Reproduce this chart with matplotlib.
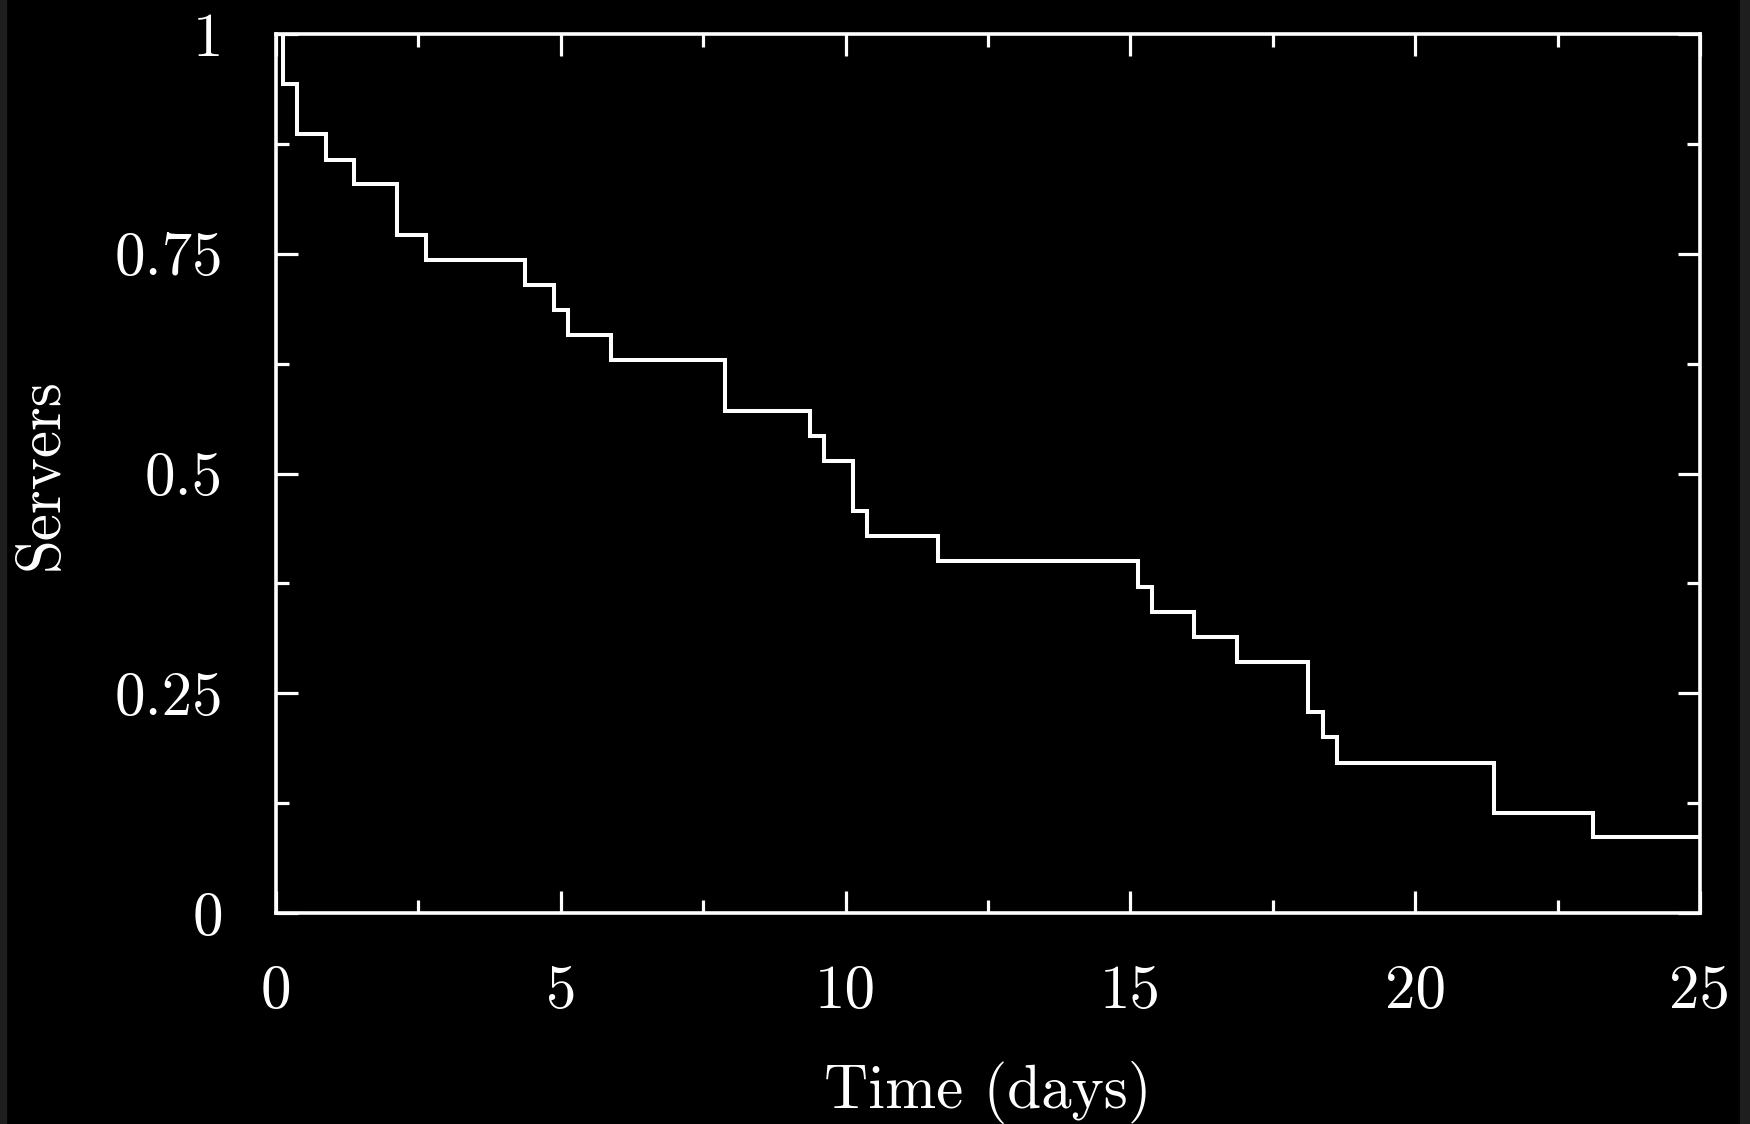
import numpy as np
import matplotlib
matplotlib.use("Agg")
from matplotlib import pyplot as plt
from matplotlib.patches import Rectangle
from matplotlib.ticker import FixedLocator, FixedFormatter

plt.rcParams.update({'font.family': 'cmr10', 'axes.formatter.use_mathtext': True})

# survival-style step curve
times = [0, 0.125, 0.375, 0.875, 1.375, 2.125, 2.625, 4.375, 4.875, 5.125,
         5.875, 7.875, 9.375, 9.625, 10.125, 10.375, 11.625, 15.125, 15.375,
         16.125, 16.875, 18.125, 18.375, 18.625, 21.375, 23.125, 25]
servers = [1.0, 0.943, 0.886, 0.857, 0.829, 0.771, 0.743, 0.714, 0.686, 0.657,
           0.629, 0.571, 0.543, 0.514, 0.457, 0.429, 0.400, 0.371, 0.343,
           0.314, 0.286, 0.229, 0.200, 0.171, 0.114, 0.086, 0.086]

x_major = [0, 5, 10, 15, 20, 25]
x_minor = [2.5, 7.5, 12.5, 17.5, 22.5]
y_major = [0, 0.25, 0.5, 0.75, 1]
y_minor = [0.125, 0.375, 0.625, 0.875]
x_labels = ['0', '5', '10', '15', '20', '25']
y_labels = ['0', '0.25', '0.5', '0.75', '1']

fig = plt.figure(figsize=(17.5, 11.24), dpi=100, facecolor='black')
ax = fig.add_axes([276 / 1750, 211 / 1124, 1424 / 1750, 879 / 1124])
ax.set_facecolor('black')

# thin grey strips at the image edges
fig.patches.append(Rectangle((0, 0), 6 / 1750, 1, transform=fig.transFigure,
                             color='#1e1e1e', zorder=-1))
fig.patches.append(Rectangle((1740 / 1750, 0), 10 / 1750, 1, transform=fig.transFigure,
                             color='#1e1e1e', zorder=-1))

ax.step(times, servers, where='post', color='white', lw=2.9, solid_joinstyle='miter')

ax.set_xlim(0, 25)
ax.set_ylim(0, 1)

ax.xaxis.set_major_locator(FixedLocator(x_major))
ax.xaxis.set_minor_locator(FixedLocator(x_minor))
ax.yaxis.set_major_locator(FixedLocator(y_major))
ax.yaxis.set_minor_locator(FixedLocator(y_minor))
ax.xaxis.set_major_formatter(FixedFormatter(x_labels))
ax.yaxis.set_major_formatter(FixedFormatter(y_labels))

for pos in ['right', 'top', 'bottom', 'left']:
    ax.spines[pos].set_color('white')
    ax.spines[pos].set_linewidth(2.6)

ax.tick_params(which='both', direction='in', top=True, right=True, color='white',
               labelcolor='white', labelsize=44, width=2.3)
ax.tick_params(which='major', length=16)
ax.tick_params(which='minor', length=9.5)
ax.tick_params(axis='x', which='major', pad=37)
ax.tick_params(axis='y', which='major', pad=38)

ax.set_xlabel('Time (days)', fontsize=44, color='white', va='baseline')
ax.xaxis.set_label_coords(0.5, -195 / 879)
ax.set_ylabel('Servers', fontsize=44, color='white', va='baseline')
ax.yaxis.set_label_coords(-218 / 1424, 0.5)

plt.savefig("out.png", facecolor='black')
